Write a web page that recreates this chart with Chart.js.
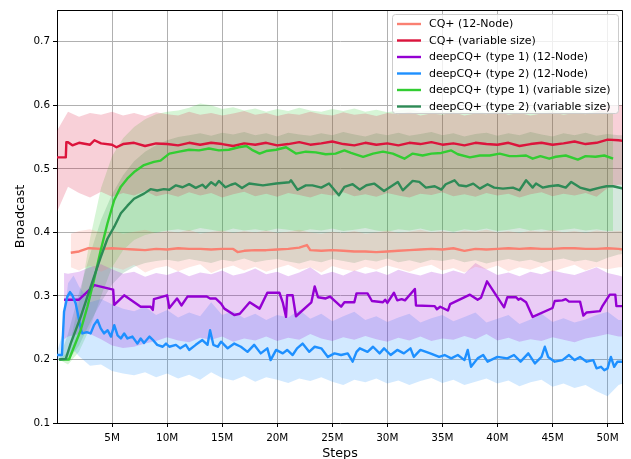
<!DOCTYPE html>
<html><head><meta charset="utf-8">
<script src="https://cdn.jsdelivr.net/npm/chart.js@4.4.1/dist/chart.umd.min.js"></script>
<style>html,body{margin:0;padding:0;background:#fff}#wrap{width:631px;height:459px}</style>
</head><body><div id="wrap"><canvas id="c" width="631" height="459"></canvas></div>
<script>
// ---------- DATA (steps in millions) ----------
const seriesNames = ["CQ+ (12-Node)","CQ+ (variable size)","deepCQ+ (type 1) (12-Node)","deepCQ+ (type 2) (12-Node)","deepCQ+ (type 1) (variable size)","deepCQ+ (type 2) (variable size)"];
const xTickValues = [5,10,15,20,25,30,35,40,45,50];
const yTickValues = [0.1,0.2,0.3,0.4,0.5,0.6,0.7];

// CQ+ (12-Node)
const cq12X = [1.25,2,2.8,3,4,5,6,7,8,9,10,11,12,13,14,15,16,16.4,17,18,19,20,21,22,22.7,23,24,25,26,27,28,29,30,31,32,33,34,35,36,37,38,39,40,41,42,43,44,45,46,47,48,49,50,51,51.4];
const cq12Y = [0.368,0.370,0.375,0.375,0.374,0.375,0.374,0.373,0.372,0.374,0.373,0.375,0.374,0.374,0.373,0.374,0.374,0.369,0.371,0.372,0.372,0.373,0.374,0.376,0.380,0.372,0.371,0.372,0.371,0.370,0.370,0.369,0.370,0.371,0.372,0.373,0.374,0.373,0.375,0.371,0.374,0.373,0.374,0.375,0.374,0.375,0.374,0.374,0.375,0.375,0.374,0.374,0.375,0.374,0.373];
const cq12BandX = [1.25,2,3,4,5,6,7,8,9,10,11,12,13,14,15,16,17,18,19,20,21,22,23,24,25,26,27,28,29,30,31,32,33,34,35,36,37,38,39,40,41,42,43,44,45,46,47,48,49,50,51,51.4];
const cq12Upper = [0.398,0.402,0.405,0.400,0.403,0.398,0.401,0.404,0.399,0.402,0.400,0.404,0.398,0.401,0.403,0.399,0.402,0.400,0.403,0.399,0.401,0.404,0.400,0.398,0.401,0.399,0.402,0.398,0.400,0.403,0.399,0.401,0.404,0.400,0.402,0.399,0.403,0.401,0.404,0.400,0.402,0.399,0.403,0.401,0.404,0.400,0.402,0.399,0.403,0.401,0.402,0.402];
const cq12Lower = [0.345,0.340,0.348,0.338,0.346,0.341,0.349,0.337,0.344,0.347,0.339,0.345,0.350,0.336,0.343,0.348,0.340,0.346,0.338,0.344,0.349,0.341,0.345,0.337,0.347,0.342,0.339,0.346,0.341,0.348,0.343,0.338,0.345,0.349,0.340,0.344,0.337,0.346,0.342,0.348,0.339,0.345,0.341,0.347,0.338,0.344,0.349,0.340,0.346,0.342,0.345,0.345];

// CQ+ (variable size)
const cqVarX = [0,0.8,0.85,1.0,1.4,2,3,3.4,4,5,5.4,6,7,8,9,10,11,12,13,14,15,16,17,18,19,20,21,22,23,24,25,26,27,28,29,30,31,32,33,34,35,36,37,38,39,40,41,42,43,44,45,46,47,48,49,50,51,51.4];
const cqVarY = [0.518,0.518,0.542,0.542,0.537,0.541,0.538,0.545,0.540,0.538,0.534,0.539,0.541,0.536,0.540,0.539,0.537,0.541,0.538,0.541,0.539,0.536,0.540,0.538,0.541,0.537,0.539,0.542,0.538,0.540,0.543,0.539,0.537,0.541,0.538,0.540,0.537,0.541,0.539,0.542,0.538,0.540,0.537,0.541,0.539,0.538,0.541,0.536,0.539,0.541,0.538,0.540,0.543,0.539,0.541,0.546,0.545,0.544];
const cqVarBandX = [0,1,2,3,4,5,6,7,8,9,10,11,12,13,14,15,16,17,18,19,20,21,22,23,24,25,26,27,28,29,30,31,32,33,34,35,36,37,38,39,40,41,42,43,44,45,46,47,48,49,50,51,51.4];
const cqVarUpper = [0.560,0.590,0.582,0.588,0.585,0.590,0.584,0.588,0.583,0.589,0.586,0.584,0.590,0.585,0.588,0.584,0.587,0.591,0.585,0.588,0.583,0.587,0.585,0.590,0.586,0.584,0.589,0.585,0.587,0.583,0.588,0.586,0.590,0.584,0.587,0.585,0.589,0.584,0.587,0.586,0.590,0.585,0.588,0.584,0.587,0.589,0.585,0.588,0.586,0.590,0.598,0.600,0.600];
const cqVarLower = [0.432,0.472,0.462,0.455,0.464,0.456,0.462,0.458,0.465,0.457,0.461,0.456,0.463,0.458,0.462,0.455,0.460,0.464,0.457,0.461,0.456,0.462,0.459,0.455,0.461,0.458,0.463,0.457,0.460,0.456,0.462,0.458,0.455,0.461,0.459,0.463,0.457,0.460,0.456,0.462,0.458,0.461,0.455,0.460,0.463,0.457,0.461,0.458,0.462,0.456,0.470,0.475,0.475];

// deepCQ+ (type 1) (12-Node)
const dq1nX = [0.64,2.0,3.4,5.1,5.2,6.1,7.6,8.5,8.7,8.8,10.0,10.2,10.9,11.3,11.85,13.6,13.9,14.4,14.9,15.2,16.1,16.6,17.5,18.4,19.1,20.2,20.5,20.8,20.9,21.4,21.7,23.1,23.4,23.7,24.4,24.8,25.3,25.8,26.1,27.0,27.2,28.2,28.6,29.6,29.8,30.0,30.6,30.9,31.3,31.6,32.5,32.6,34.3,34.5,34.8,35.5,35.7,37.5,38.2,38.5,39.05,40.6,40.9,41.7,41.9,42.1,42.6,43.2,45.0,45.2,45.9,46.2,46.5,47.5,47.8,48.1,49.3,49.5,50.2,50.7,50.8,51.4];
const dq1nY = [0.294,0.294,0.317,0.310,0.286,0.301,0.283,0.283,0.278,0.295,0.301,0.281,0.296,0.285,0.299,0.299,0.296,0.296,0.288,0.280,0.270,0.272,0.290,0.280,0.305,0.305,0.290,0.267,0.301,0.301,0.268,0.290,0.315,0.298,0.296,0.299,0.291,0.283,0.290,0.290,0.304,0.304,0.292,0.290,0.294,0.289,0.305,0.293,0.295,0.293,0.311,0.285,0.284,0.279,0.283,0.277,0.287,0.302,0.294,0.297,0.323,0.282,0.298,0.298,0.294,0.296,0.290,0.267,0.281,0.292,0.293,0.295,0.291,0.291,0.269,0.274,0.276,0.283,0.302,0.302,0.284,0.284];
const dq1nBandX = [0.64,1,2,3,4,5,6,7,8,9,10,11,12,13,14,15,16,17,18,19,20,21,22,23,24,25,26,27,28,29,30,31,32,33,34,35,36,37,38,39,40,41,42,43,44,45,46,47,48,49,50,51,51.4];
const dq1nUpper = [0.336,0.335,0.338,0.345,0.350,0.342,0.335,0.338,0.330,0.336,0.333,0.339,0.331,0.337,0.334,0.340,0.332,0.336,0.343,0.334,0.338,0.331,0.337,0.345,0.333,0.338,0.332,0.340,0.335,0.339,0.333,0.341,0.336,0.332,0.338,0.334,0.340,0.335,0.352,0.342,0.333,0.337,0.331,0.338,0.334,0.340,0.336,0.333,0.339,0.345,0.336,0.332,0.330];
const dq1nLower = [0.232,0.236,0.240,0.240,0.232,0.222,0.218,0.220,0.225,0.229,0.235,0.230,0.227,0.234,0.231,0.236,0.228,0.233,0.230,0.236,0.229,0.234,0.231,0.240,0.233,0.229,0.235,0.231,0.237,0.232,0.228,0.234,0.230,0.236,0.229,0.233,0.231,0.237,0.232,0.240,0.230,0.234,0.228,0.232,0.229,0.235,0.231,0.227,0.233,0.236,0.240,0.236,0.236];

// deepCQ+ (type 2) (12-Node)
const dq2nX = [0,0.45,0.64,0.94,1.18,1.39,1.7,2.15,2.3,2.7,3.06,3.36,3.67,3.97,4.27,4.6,4.9,5.2,5.5,5.8,6.1,6.4,6.85,7.3,7.6,7.9,8.4,8.7,9.1,9.6,9.9,10.2,10.8,11.2,11.7,12.0,12.6,13.2,13.67,13.9,14.2,14.6,14.9,15.5,16.1,16.7,17.3,17.9,18.5,19.1,19.4,19.9,20.5,20.9,21.4,21.8,22.3,22.9,23.4,24.0,24.6,25.2,25.8,26.4,26.85,27.2,27.5,28.2,28.7,29.3,29.7,30.3,30.9,31.5,32.1,32.4,33.0,33.9,34.7,35.2,35.8,36.4,37.0,37.3,37.6,38.2,38.7,39.1,40.0,40.9,41.5,42.1,42.8,43.4,44.0,44.3,44.6,45.2,45.9,46.5,47.0,47.5,48.1,48.7,49.0,49.4,49.7,50.0,50.3,50.6,50.9,51.4];
const dq2nY = [0.207,0.207,0.275,0.299,0.306,0.301,0.288,0.249,0.241,0.243,0.241,0.254,0.262,0.249,0.241,0.246,0.236,0.254,0.238,0.233,0.241,0.233,0.236,0.225,0.233,0.226,0.236,0.231,0.223,0.220,0.225,0.220,0.223,0.2175,0.223,0.215,0.223,0.2305,0.223,0.246,0.223,0.220,0.228,0.2175,0.225,0.220,0.212,0.223,0.2096,0.2175,0.199,0.215,0.2096,0.215,0.207,0.2175,0.225,0.212,0.220,0.2175,0.204,0.2096,0.207,0.2096,0.1965,0.212,0.2175,0.212,0.220,0.2096,0.2175,0.207,0.215,0.2096,0.2175,0.204,0.215,0.2096,0.204,0.207,0.2017,0.207,0.199,0.215,0.1885,0.2017,0.207,0.1965,0.204,0.2017,0.207,0.1965,0.2096,0.1938,0.204,0.220,0.204,0.1965,0.199,0.207,0.199,0.204,0.1965,0.199,0.186,0.1885,0.183,0.186,0.204,0.1885,0.1965,0.1965];
const dq2nBandX = [0,0.5,1,1.5,2,3,4,5,6,7,8,9,10,11,12,13,14,15,16,17,18,19,20,21,22,23,24,25,26,27,28,29,30,31,32,33,34,35,36,37,38,39,40,41,42,43,44,45,46,47,48,49,50,51,51.4];
const dq2nUpper = [0.212,0.240,0.320,0.332,0.315,0.290,0.295,0.287,0.280,0.276,0.283,0.270,0.278,0.266,0.274,0.268,0.290,0.270,0.276,0.265,0.272,0.262,0.270,0.266,0.278,0.264,0.272,0.260,0.268,0.275,0.262,0.268,0.259,0.266,0.272,0.258,0.265,0.270,0.260,0.267,0.274,0.258,0.264,0.270,0.256,0.263,0.272,0.259,0.265,0.258,0.263,0.270,0.275,0.262,0.262];
const dq2nLower = [0.200,0.200,0.205,0.215,0.205,0.190,0.192,0.182,0.178,0.175,0.180,0.172,0.178,0.170,0.176,0.168,0.180,0.171,0.167,0.174,0.165,0.172,0.168,0.163,0.170,0.166,0.172,0.165,0.160,0.168,0.164,0.170,0.162,0.167,0.160,0.166,0.171,0.163,0.168,0.160,0.165,0.170,0.162,0.167,0.158,0.164,0.168,0.157,0.162,0.155,0.160,0.150,0.142,0.160,0.162];

// deepCQ+ (type 1) (variable size)
const dq1vX = [0.2,1.09,1.55,2.15,2.76,3.36,3.97,4.58,5.2,5.8,6.4,7.0,7.9,8.8,9.4,10.2,11.1,12.0,12.9,13.8,14.7,15.6,16.5,17.2,17.8,18.4,19.0,19.9,20.8,21.7,22.6,23.5,24.4,25.3,26.1,26.7,27.8,28.7,29.6,30.5,31.55,32.3,33.2,34.0,34.9,35.8,36.4,37.5,38.4,39.3,40.2,41.1,41.7,42.6,43.2,43.9,44.7,45.3,46.2,47.3,48.0,48.9,49.7,50.5];
const dq1vY = [0.200,0.200,0.220,0.246,0.283,0.325,0.372,0.414,0.451,0.472,0.485,0.495,0.506,0.511,0.513,0.524,0.527,0.530,0.529,0.532,0.529,0.530,0.534,0.536,0.529,0.524,0.528,0.530,0.534,0.524,0.527,0.526,0.523,0.524,0.529,0.525,0.519,0.524,0.527,0.524,0.516,0.524,0.521,0.524,0.525,0.529,0.523,0.518,0.521,0.521,0.524,0.520,0.520,0.521,0.516,0.520,0.516,0.519,0.521,0.5145,0.520,0.519,0.521,0.516];
const dq1vBandX = [0.2,1,2,3,4,5,6,7,8,9,10,11,12,13,14,15,16,17,18,19,20,21,22,23,24,25,26,27,28,29,30,31,32,33,34,35,36,37,38,39,40,41,42,43,44,45,46,47,48,49,50,50.5];
const dq1vUpper = [0.200,0.212,0.290,0.390,0.470,0.520,0.548,0.566,0.578,0.586,0.590,0.592,0.596,0.603,0.600,0.594,0.597,0.592,0.595,0.590,0.594,0.591,0.596,0.592,0.590,0.594,0.591,0.595,0.590,0.593,0.589,0.592,0.594,0.590,0.592,0.589,0.593,0.590,0.592,0.588,0.591,0.593,0.589,0.592,0.590,0.593,0.589,0.591,0.588,0.592,0.590,0.589];
const dq1vLower = [0.200,0.192,0.212,0.250,0.300,0.345,0.372,0.388,0.396,0.400,0.403,0.405,0.402,0.407,0.404,0.401,0.406,0.403,0.405,0.402,0.406,0.404,0.401,0.405,0.403,0.406,0.402,0.404,0.407,0.403,0.401,0.405,0.403,0.406,0.402,0.404,0.401,0.405,0.403,0.406,0.402,0.404,0.407,0.403,0.405,0.402,0.404,0.406,0.403,0.405,0.402,0.402];

// deepCQ+ (type 2) (variable size)
const dq2vX = [0.18,0.8,1.24,2.15,2.76,3.36,3.97,4.58,5.2,5.8,6.4,7.0,7.9,8.5,9.1,9.7,10.2,10.8,11.4,12.0,12.6,13.2,13.5,14.0,14.4,14.7,15.3,15.8,16.2,16.8,17.45,18.7,19.9,21.1,21.25,21.85,22.6,23.2,24.0,24.7,25.6,26.1,26.85,27.5,28.1,28.8,29.7,30.5,30.95,31.4,32.3,32.9,33.5,34.3,34.9,35.3,36.1,36.5,37.15,37.8,38.4,39.1,39.7,40.5,41.4,42.0,42.6,43.2,43.5,44.1,44.7,45.5,46.2,46.7,47.5,48.4,49.3,49.9,50.5,51.4];
const dq2vY = [0.200,0.201,0.225,0.267,0.299,0.330,0.361,0.390,0.409,0.430,0.442,0.453,0.461,0.468,0.466,0.468,0.467,0.474,0.471,0.476,0.470,0.475,0.470,0.479,0.474,0.481,0.471,0.475,0.477,0.470,0.477,0.474,0.477,0.479,0.482,0.467,0.474,0.474,0.4705,0.477,0.4584,0.4715,0.4758,0.4673,0.4742,0.4768,0.4652,0.4742,0.4794,0.4663,0.481,0.4794,0.4705,0.4726,0.4673,0.4758,0.482,0.4742,0.4726,0.4768,0.4689,0.4758,0.4705,0.4689,0.4705,0.4663,0.482,0.4705,0.4768,0.4705,0.4726,0.4742,0.4705,0.4794,0.4705,0.4663,0.4705,0.4726,0.4726,0.4689];
const dq2vBandX = [0.18,1,2,3,4,5,6,7,8,9,10,11,12,13,14,15,16,17,18,19,20,21,22,23,24,25,26,27,28,29,30,31,32,33,34,35,36,37,38,39,40,41,42,43,44,45,46,47,48,49,50,51,51.4];
const dq2vUpper = [0.200,0.240,0.305,0.365,0.420,0.460,0.490,0.512,0.527,0.537,0.545,0.550,0.553,0.556,0.552,0.557,0.554,0.558,0.553,0.556,0.551,0.557,0.554,0.552,0.556,0.553,0.558,0.554,0.551,0.556,0.553,0.557,0.552,0.555,0.558,0.553,0.556,0.551,0.555,0.557,0.552,0.556,0.553,0.558,0.554,0.551,0.556,0.553,0.557,0.552,0.555,0.553,0.553];
const dq2vLower = [0.200,0.198,0.222,0.258,0.290,0.318,0.336,0.346,0.352,0.355,0.357,0.354,0.358,0.355,0.352,0.357,0.354,0.359,0.353,0.356,0.358,0.354,0.351,0.356,0.353,0.358,0.355,0.352,0.357,0.354,0.359,0.353,0.356,0.352,0.357,0.355,0.358,0.353,0.356,0.351,0.355,0.358,0.354,0.357,0.352,0.356,0.359,0.354,0.357,0.353,0.360,0.365,0.366];

// ---------- CHART ----------
const pts = (xs, ys) => xs.slice(0, Math.min(xs.length, ys.length)).map((x, i) => ({x: x, y: ys[i]}));
const series = [
  {color:'#FA8072', band:'rgba(250,128,114,0.2)', lx:cq12X, ly:cq12Y, bx:cq12BandX, bu:cq12Upper, bl:cq12Lower},
  {color:'#DC143C', band:'rgba(220,20,60,0.2)', lx:cqVarX, ly:cqVarY, bx:cqVarBandX, bu:cqVarUpper, bl:cqVarLower},
  {color:'#9400D3', band:'rgba(148,0,211,0.2)', lx:dq1nX, ly:dq1nY, bx:dq1nBandX, bu:dq1nUpper, bl:dq1nLower},
  {color:'#1E90FF', band:'rgba(30,144,255,0.2)', lx:dq2nX, ly:dq2nY, bx:dq2nBandX, bu:dq2nUpper, bl:dq2nLower},
  {color:'#32CD32', band:'rgba(50,205,50,0.2)', lx:dq1vX, ly:dq1vY, bx:dq1vBandX, bu:dq1vUpper, bl:dq1vLower},
  {color:'#2E8B57', band:'rgba(46,139,87,0.2)', lx:dq2vX, ly:dq2vY, bx:dq2vBandX, bu:dq2vUpper, bl:dq2vLower}
];
const datasets = [];
series.forEach(s => {
  const i = datasets.length;
  datasets.push({data: pts(s.bx, s.bu), fill: i + 1, backgroundColor: s.band, borderColor: 'rgba(0,0,0,0)', borderWidth: 0, pointRadius: 0, order: 50});
  datasets.push({data: pts(s.bx, s.bl), fill: false, borderColor: 'rgba(0,0,0,0)', borderWidth: 0, pointRadius: 0, order: 50});
});
series.forEach((s, k) => {
  datasets.push({label: seriesNames[k], data: pts(s.lx, s.ly), fill: false, borderColor: s.color, backgroundColor: s.color, borderWidth: 2.4, pointRadius: 0, tension: 0, borderJoinStyle: 'round', order: 10 - k});
});

Chart.defaults.font.family = '"DejaVu Sans", sans-serif';
Chart.defaults.font.size = 10.4;
Chart.defaults.color = '#000';

const framePlugin = {
  id: 'frame',
  afterDatasetsDraw(chart) {
    const a = chart.chartArea, ctx = chart.ctx;
    ctx.save();
    ctx.strokeStyle = '#000'; ctx.lineWidth = 1;
    ctx.beginPath();
    ctx.moveTo(Math.round(a.left) + 0.5, Math.round(a.top) + 0.5);
    ctx.lineTo(Math.round(a.right) - 0.5, Math.round(a.top) + 0.5);
    ctx.lineTo(Math.round(a.right) - 0.5, Math.round(a.bottom) + 0.5);
    ctx.stroke();
    ctx.restore();
  }
};
const legendPlugin = {
  id: 'boxLegend',
  afterDraw(chart) {
    const ctx = chart.ctx;
    const bx = 392.5, by = 14.5, bw = 226, bh = 99, r = 3;
    ctx.save();
    ctx.beginPath();
    ctx.moveTo(bx + r, by); ctx.lineTo(bx + bw - r, by); ctx.quadraticCurveTo(bx + bw, by, bx + bw, by + r);
    ctx.lineTo(bx + bw, by + bh - r); ctx.quadraticCurveTo(bx + bw, by + bh, bx + bw - r, by + bh);
    ctx.lineTo(bx + r, by + bh); ctx.quadraticCurveTo(bx, by + bh, bx, by + bh - r);
    ctx.lineTo(bx, by + r); ctx.quadraticCurveTo(bx, by, bx + r, by);
    ctx.closePath();
    ctx.fillStyle = 'rgba(255,255,255,0.8)'; ctx.fill();
    ctx.strokeStyle = '#cccccc'; ctx.lineWidth = 1; ctx.stroke();
    ctx.font = '11px "DejaVu Sans", sans-serif';
    ctx.textBaseline = 'middle'; ctx.textAlign = 'left';
    seriesNames.forEach((name, i) => {
      const y = 24 + i * 16.5;
      ctx.strokeStyle = series[i].color; ctx.lineWidth = 2.4;
      ctx.beginPath(); ctx.moveTo(397, y); ctx.lineTo(421, y); ctx.stroke();
      ctx.fillStyle = '#000';
      ctx.fillText(name, 429, y + 0.5);
    });
    ctx.restore();
  }
};

new Chart(document.getElementById('c'), {
  type: 'line',
  data: {datasets: datasets},
  plugins: [framePlugin, legendPlugin],
  options: {
    responsive: false, animation: false, devicePixelRatio: 1, events: [],
    layout: {padding: {left: 0, top: 10, right: 8, bottom: 0}},
    plugins: {legend: {display: false}, tooltip: {enabled: false}, filler: {propagate: false, drawTime: 'beforeDatasetsDraw'}},
    scales: {
      x: {
        type: 'linear', min: 0, max: 51.4,
        afterBuildTicks: s => { s.ticks = xTickValues.map(v => ({value: v})); },
        afterFit: s => { s.height = 36; },
        ticks: {autoSkip: false, maxRotation: 0, padding: 5, color: '#000', font: {size: 10.4}, callback: v => v + 'M'},
        grid: {color: '#b0b0b0', lineWidth: 1, tickColor: '#000', tickLength: 4},
        border: {display: true, color: '#000', width: 1},
        title: {display: true, text: 'Steps', font: {size: 12.7, lineHeight: 0.9}, color: '#000', padding: {top: 0, bottom: 0}}
      },
      y: {
        type: 'linear', min: 0.1, max: 0.75,
        afterBuildTicks: s => { s.ticks = yTickValues.map(v => ({value: v})); },
        afterFit: s => { s.width = 57; },
        ticks: {autoSkip: false, padding: 3, color: '#000', font: {size: 10.4}, callback: v => Number(v).toFixed(1)},
        grid: {color: '#b0b0b0', lineWidth: 1, tickColor: '#000', tickLength: 4},
        border: {display: true, color: '#000', width: 1},
        title: {display: true, text: 'Broadcast', font: {size: 12.7, lineHeight: 0.9}, color: '#000', padding: {top: 14.5, bottom: 0}}
      }
    }
  }
});
</script>
</body></html>
